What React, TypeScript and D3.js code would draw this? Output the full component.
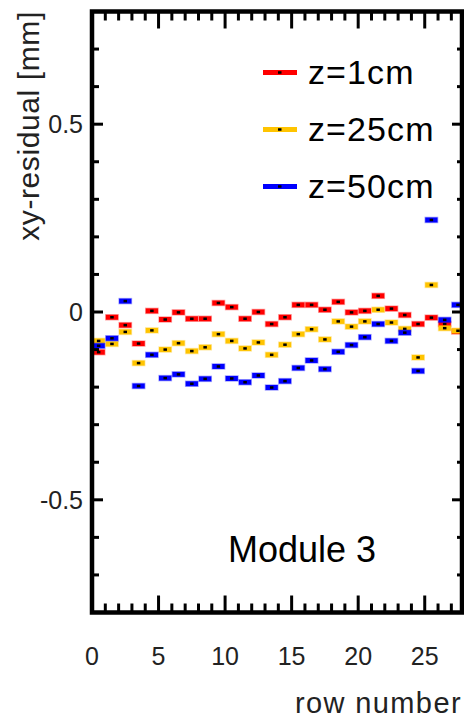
import React, { useEffect, useRef } from 'react';
import * as d3 from 'd3';

// row numbers (bins), plotted at the bin centre
const rows = [0, 1, 2, 3, 4, 5, 6, 7, 8, 9, 10, 11, 12, 13, 14, 15, 16, 17, 18, 19, 20, 21, 22, 23, 24, 25, 26, 27];

// xy-residual [mm] per row
const residualZ1 = [-0.107, -0.014, -0.035, -0.084, 0.003, -0.020, -0.001, -0.018, -0.018, 0.024, 0.013, -0.018, 0.000, -0.032,
  -0.014, 0.019, 0.019, 0.006, 0.027, -0.001, 0.003, 0.043, 0.009, -0.008, -0.032, -0.015, -0.032, -0.052];
const residualZ25 = [-0.077, -0.085, -0.053, -0.136, -0.049, -0.100, -0.083, -0.104, -0.094, -0.059, -0.077, -0.097, -0.081, -0.114,
  -0.087, -0.059, -0.046, -0.073, -0.025, -0.039, -0.025, 0.006, -0.028, -0.045, -0.121, 0.072, -0.043, -0.050];
const residualZ50 = [-0.090, -0.070, 0.029, -0.197, -0.114, -0.176, -0.166, -0.191, -0.178, -0.145, -0.177, -0.187, -0.169, -0.201,
  -0.184, -0.149, -0.129, -0.152, -0.106, -0.088, -0.067, -0.032, -0.077, -0.055, -0.157, 0.245, -0.021, 0.019];

const seriesNames = ['z=1cm', 'z=25cm', 'z=50cm'];
const seriesColors = ['#ff0000', '#ffc400', '#0000ff'];

const xTickLabels = [0, 5, 10, 15, 20, 25];
const yTickLabels = [-0.5, 0, 0.5];

const FONT = '"Liberation Sans", Arial, Helvetica, sans-serif';

const App = () => {
  const ref = useRef<SVGSVGElement>(null);

  useEffect(() => {
    if (!ref.current) return;
    const svg = d3.select(ref.current);
    svg.selectAll('*').remove();

    const left = 92, right = 462, top = 11.5, bottom = 612.5;

    const x = d3.scaleLinear().domain([0, 27.8]).range([left, right]);
    const y = d3.scaleLinear().domain([-0.8, 0.8]).range([bottom, top]);

    const binW = x(1) - x(0);
    const boxH = 5;

    // data boxes: red first, blue on top
    const series = [residualZ1, residualZ25, residualZ50];
    series.forEach((vals, si) => {
      const g = svg.append('g');
      const pts = rows.map((r, i) => ({ r, v: vals[i] }));
      g.selectAll('rect.box')
        .data(pts)
        .enter()
        .append('rect')
        .attr('class', 'box')
        .attr('x', d => x(d.r) + 0.5)
        .attr('y', d => y(d.v) - boxH / 2)
        .attr('width', binW - 1)
        .attr('height', boxH)
        .attr('fill', seriesColors[si])
        .attr('stroke', seriesColors[si])
        .attr('stroke-opacity', 0.35)
        .attr('stroke-width', 1.5);
      g.selectAll('rect.dot')
        .data(pts)
        .enter()
        .append('rect')
        .attr('class', 'dot')
        .attr('x', d => x(d.r + 0.5) - 1.75)
        .attr('y', d => y(d.v) - 1.25)
        .attr('width', 3.5)
        .attr('height', 2.5)
        .attr('fill', '#000');
    });

    // minor / major ticks, pointing inward on all four sides
    const xMinor = d3.range(1, 28);
    const yMinor = y.ticks(16);
    const isMajorX = (t: number) => t % 5 === 0;
    const isMajorY = (t: number) => Math.abs(Math.round(t * 10)) % 5 === 0;

    const ticks = svg.append('g').attr('stroke', '#000').attr('stroke-width', 3);
    xMinor.forEach(t => {
      const len = isMajorX(t) ? 17 : 9;
      ticks.append('line').attr('x1', x(t)).attr('x2', x(t)).attr('y1', bottom).attr('y2', bottom - len);
      ticks.append('line').attr('x1', x(t)).attr('x2', x(t)).attr('y1', top).attr('y2', top + len);
    });
    yMinor.forEach(t => {
      const lenL = isMajorY(t) ? 11 : 7;
      const lenR = isMajorY(t) ? 10 : 5;
      ticks.append('line').attr('x1', left).attr('x2', left + lenL).attr('y1', y(t)).attr('y2', y(t));
      ticks.append('line').attr('x1', right).attr('x2', right - lenR).attr('y1', y(t)).attr('y2', y(t));
    });

    // frame
    svg.append('rect')
      .attr('x', left)
      .attr('y', top)
      .attr('width', right - left)
      .attr('height', bottom - top)
      .attr('fill', 'none')
      .attr('stroke', '#000')
      .attr('stroke-width', 4.5);

    // tick labels
    svg.append('g')
      .selectAll('text')
      .data(xTickLabels)
      .enter()
      .append('text')
      .attr('x', d => x(d))
      .attr('y', 665)
      .attr('text-anchor', 'middle')
      .style('font-family', FONT)
      .style('font-size', '25px')
      .attr('fill', '#222')
      .text(d => d);

    svg.append('g')
      .selectAll('text')
      .data(yTickLabels)
      .enter()
      .append('text')
      .attr('x', 83)
      .attr('y', d => y(d))
      .attr('dy', '0.36em')
      .attr('text-anchor', 'end')
      .style('font-family', FONT)
      .style('font-size', '25px')
      .attr('fill', '#222')
      .text(d => d);

    // axis titles
    svg.append('text')
      .attr('transform', 'translate(39, 126) rotate(-90)')
      .attr('text-anchor', 'middle')
      .style('font-family', FONT)
      .style('font-size', '30px')
      .style('letter-spacing', '0.6px')
      .attr('fill', '#222')
      .text('xy-residual [mm]');

    svg.append('text')
      .attr('x', 462)
      .attr('y', 713)
      .attr('text-anchor', 'end')
      .style('font-family', FONT)
      .style('font-size', '29px')
      .style('letter-spacing', '1.4px')
      .attr('fill', '#222')
      .text('row number');

    svg.append('text')
      .attr('x', 302)
      .attr('y', 562)
      .attr('text-anchor', 'middle')
      .style('font-family', FONT)
      .style('font-size', '36px')
      .attr('fill', '#000')
      .text('Module 3');

    // legend
    const legend = svg.append('g');
    seriesNames.forEach((name, i) => {
      const ly = 72.5 + i * 57;
      legend.append('line')
        .attr('x1', 263).attr('x2', 297)
        .attr('y1', ly).attr('y2', ly)
        .attr('stroke', seriesColors[i])
        .attr('stroke-width', 5);
      legend.append('rect')
        .attr('x', 278).attr('y', ly - 1.25)
        .attr('width', 3.5).attr('height', 2.5)
        .attr('fill', '#000');
      legend.append('text')
        .attr('x', 308)
        .attr('y', ly + 11)
        .style('font-family', FONT)
        .style('font-size', '34px')
        .style('letter-spacing', '1.1px')
        .attr('fill', '#000')
        .text(name);
    });
  }, []);

  return (
    <svg
      ref={ref}
      width={464}
      height={720}
      style={{ position: 'absolute', left: 0, top: 0, background: '#fff' }}
    />
  );
};

export default App;
